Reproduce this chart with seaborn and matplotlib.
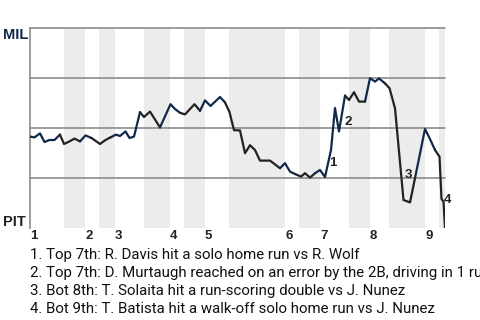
import numpy as np
import pandas as pd
import matplotlib
matplotlib.use("Agg")
import matplotlib.pyplot as plt
import seaborn as sns

# ---- data ----
# game progress (plate appearances) and MIL win probability (%)
pa_x = [0, 0.9, 2, 2.9, 3.9, 4.9, 6,
        6.8, 7.9, 8.9, 10,
        11.1, 12.3,
        14, 15.1, 16.1,
        17.2, 18, 19.1, 19.9, 20.8, 22,
        22.8, 24, 26,
        28.1, 29, 30,
        31, 32.9, 34,
        35, 36.1, 38, 39,
        39.9, 40.8, 42, 43, 44, 45, 46, 48, 50,
        51, 52, 53,
        54.2, 55, 56, 57,
        58, 59, 60.2, 61, 61.8, 63,
        63.8, 64.8, 65.8, 67,
        68, 69, 69.8, 71,
        71.9, 73, 74.7, 76, 77,
        79, 80, 81,
        81.9, 82.3, 82.7, 83]
mil_wp = [45.7, 45.3, 47.3, 43, 44, 44, 46.7,
          42, 43.3, 44.7, 43.3,
          46.3, 45,
          42, 44, 45.3,
          46.7, 46, 48.3, 45, 45.7, 57.9,
          55.5, 58.2, 50.3,
          61.9, 59.5, 57.6,
          56.8, 61.9, 58.6,
          63.8, 61, 65.5, 62.8,
          58, 48.9, 48.8, 37.4, 41.4, 39, 33.7, 33.7, 29.9,
          32.4, 28.2, 27,
          25.7, 27.4, 25.2, 27.4,
          29, 25.5, 39, 60, 48.3, 66.2,
          64, 67.9, 63.2, 63.2,
          74.9, 73.2, 74.8, 72.3,
          69.9, 59.9, 14, 12.8, 24.9,
          49.5, 44.5, 39,
          35.7, 14.5, 13.2, 0]

inning_labels = ["1", "2", "3", "4", "5", "6", "7", "8", "9"]
inning_start = [0, 11, 17, 28, 35, 51, 58, 68, 79]
bottom_start = [6.8, 13.8, 22.8, 30.8, 39.8, 53.8, 63.8, 71.8, 81.8]
game_end = 83

mark_labels = ["1", "2", "3", "4"]
mark_x = [60.6, 63.6, 75.6, 83.6]
mark_y = [32.5, 53.2, 26.5, 14]

event_texts = [
    "1. Top 7th: R. Davis hit a solo home run vs R. Wolf",
    "2. Top 7th: D. Murtaugh reached on an error by the 2B, driving in 1 run",
    "3. Bot 8th: T. Solaita hit a run-scoring double vs J. Nunez",
    "4. Bot 9th: T. Batista hit a walk-off solo home run vs J. Nunez",
]
team_top, team_bottom = "MIL", "PIT"

# ---- style ----
NAVY = "#12284b"
DARK = "#222222"
GRID = "#8c8c8c"
BAND = "#ececec"

sns.set_style("white")
plt.rcParams["font.family"] = ["Roboto", "DejaVu Sans"]

fig = plt.figure(figsize=(4.8, 3.2), dpi=100)
ax = fig.add_axes([30 / 480, 1 - 228 / 320, 415 / 480, 200 / 320])

# half-inning assignment
def half_of(x):
    k = 0
    for i, s in enumerate(inning_start):
        if x >= s:
            k = i
    return 2 * k + (1 if x >= bottom_start[k] else 0)

halves = [half_of(x) for x in pa_x]
rows = []
seg = 0
for i, (x, v, h) in enumerate(zip(pa_x, mil_wp, halves)):
    if i > 0 and h != halves[i - 1]:
        seg += 1
        rows.append((pa_x[i - 1], mil_wp[i - 1], seg, "top" if h % 2 == 0 else "bot"))
    rows.append((x, v, seg, "top" if h % 2 == 0 else "bot"))
df = pd.DataFrame(rows, columns=["x", "wp", "seg", "side"])

# bottom-half bands
ends = inning_start[1:] + [game_end]
for b, e in zip(bottom_start, ends):
    ax.axvspan(b, e, color=BAND, lw=0, zorder=0)

for yv in [25, 50, 75, 100]:
    ax.axhline(yv, color=GRID, lw=1.2, zorder=1, clip_on=False)

sns.lineplot(data=df, x="x", y="wp", hue="side", units="seg", estimator=None,
             sort=False, palette={"top": NAVY, "bot": DARK}, linewidth=1.6,
             legend=False, ax=ax, zorder=3)

ax.set_xlim(0, game_end)
ax.set_ylim(0, 100)
for s in ["top", "right", "bottom"]:
    ax.spines[s].set_visible(False)
ax.spines["left"].set_color(GRID)
ax.spines["left"].set_linewidth(1.2)
ax.set_xlabel("")
ax.set_ylabel("")
ax.set_yticks([])
ax.set_xticks(inning_start)
ax.set_xticklabels(inning_labels, fontsize=9.5, fontweight="bold", color=DARK,
                   ha="left", family=["Liberation Sans", "DejaVu Sans"])
ax.tick_params(axis="x", length=0, pad=1.5)

for lab, mx, my in zip(mark_labels, mark_x, mark_y):
    ax.text(mx, my, lab, fontsize=9.5, fontweight="bold", color=DARK,
            ha="center", va="center", zorder=4, clip_on=False,
            family=["Liberation Sans", "DejaVu Sans"])

fig.text(3 / 480, 1 - 35 / 320, team_top, fontsize=10.5, fontweight="bold",
         color=NAVY, ha="left", va="center", family=["Liberation Sans", "DejaVu Sans"])
fig.text(3 / 480, 1 - 222 / 320, team_bottom, fontsize=10.5, fontweight="bold",
         color=DARK, ha="left", va="center", family=["Liberation Sans", "DejaVu Sans"])

for i, t in enumerate(event_texts):
    fig.text(30 / 480, 1 - (259.3 + 17.8 * i) / 320, t, fontsize=10.8,
             color="#111111", ha="left", va="baseline")

fig.savefig("out.png", dpi=100)
